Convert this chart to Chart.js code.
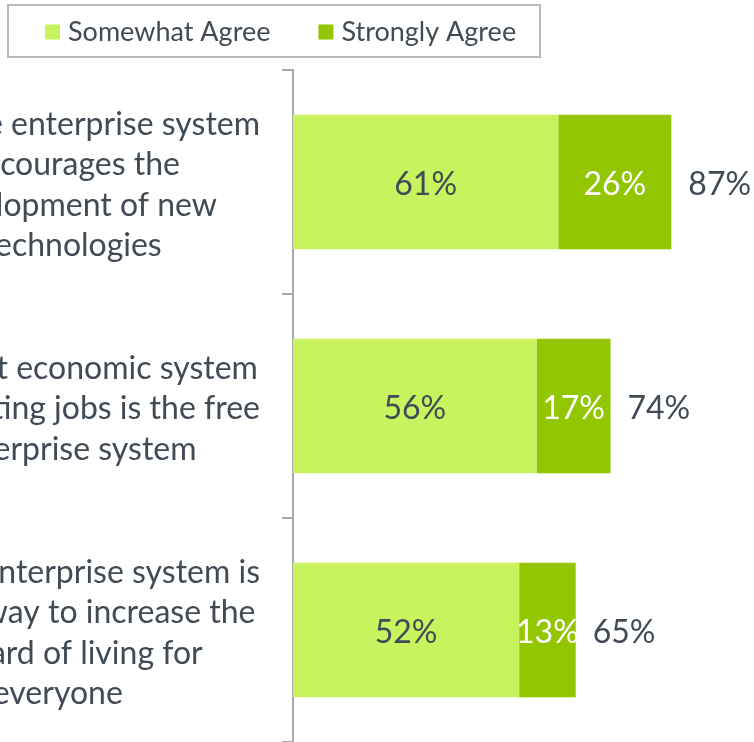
<!DOCTYPE html>
<html>
<head>
<meta charset="utf-8">
<script src="https://cdn.jsdelivr.net/npm/chart.js@4.4.1/dist/chart.umd.min.js"></script>
<style>
  html, body { margin: 0; padding: 0; background: #fff; overflow: hidden; }
  #wrap { position: absolute; left: -200px; top: 0; width: 954px; height: 742px; }
</style>
</head>
<body>
<div id="wrap"><canvas id="agreeChart" width="954" height="742"></canvas></div>
<script>
// statements shown on the category axis, one line per entry
const statements = [
    ['The free enterprise system', 'encourages the', 'development of new', 'technologies'],
    ['The best economic system', 'for creating jobs is the free', 'enterprise system'],
    ['The free enterprise system is', 'the best way to increase the', 'standard of living for', 'everyone']
];
const seriesNames = ['Somewhat Agree', 'Strongly Agree'];
const somewhatAgree = [61, 56, 52];
const stronglyAgree = [26, 17, 13];
const totalAgree = [87, 74, 65];

const textColor = '#414b56';
const fontFamily = 'Lato, "Open Sans", sans-serif';

// each statement is a block pushed against the axis, its lines centred inside it
const statementLabels = {
    id: 'statementLabels',
    afterDraw(chart, args, opts) {
        const ctx = chart.ctx;
        const yScale = chart.scales.y;
        ctx.save();
        ctx.font = opts.size + 'px ' + fontFamily;
        ctx.fillStyle = textColor;
        ctx.textAlign = 'center';
        ctx.textBaseline = 'middle';
        chart.data.labels.forEach((lines, i) => {
            const widest = Math.max(...lines.map(l => ctx.measureText(l).width));
            const cx = yScale.right - opts.gap - widest / 2;
            const cy = yScale.getPixelForTick(i) + opts.shift;
            lines.forEach((line, j) => {
                ctx.fillText(line, cx, cy + (j - (lines.length - 1) / 2) * opts.lineHeight);
            });
        });
        ctx.restore();
    }
};

// percent labels inside each segment plus the total after each stack
const valueLabels = {
    id: 'valueLabels',
    afterDatasetsDraw(chart) {
        const ctx = chart.ctx;
        ctx.save();
        ctx.font = '32px ' + fontFamily;
        ctx.textBaseline = 'middle';
        ctx.textAlign = 'center';
        chart.data.datasets.forEach((ds, di) => {
            ctx.fillStyle = di === 0 ? textColor : '#ffffff';
            chart.getDatasetMeta(di).data.forEach((bar, i) => {
                ctx.fillText(ds.data[i] + '%', (bar.x + bar.base) / 2, bar.y + 3);
            });
        });
        const lastBars = chart.getDatasetMeta(chart.data.datasets.length - 1).data;
        ctx.fillStyle = textColor;
        ctx.textAlign = 'left';
        lastBars.forEach((bar, i) => {
            ctx.fillText(totalAgree[i] + '%', bar.x + 17, bar.y + 3);
        });
        ctx.restore();
    }
};

// legend with a grey frame round it
const boxedLegend = {
    id: 'boxedLegend',
    afterDraw(chart, args, opts) {
        const ctx = chart.ctx;
        const b = opts.box;
        ctx.save();
        ctx.strokeStyle = '#b9b9b9';
        ctx.lineWidth = 2;
        ctx.strokeRect(b.x, b.y, b.w, b.h);
        ctx.font = '27px ' + fontFamily;
        ctx.textBaseline = 'middle';
        ctx.textAlign = 'left';
        let x = b.x + opts.inset;
        const cy = b.y + b.h / 2;
        chart.data.datasets.forEach(ds => {
            ctx.fillStyle = ds.backgroundColor;
            ctx.fillRect(x, cy - opts.square / 2 + 1, opts.square, opts.square);
            x += opts.square + opts.gap;
            ctx.fillStyle = textColor;
            ctx.fillText(ds.label, x, cy + 1);
            x += ctx.measureText(ds.label).width + opts.spacing;
        });
        ctx.restore();
    }
};

const ctx = document.getElementById('agreeChart').getContext('2d');
const chart = new Chart(ctx, {
    type: 'bar',
    data: {
        labels: statements,
        datasets: [
            {
                label: seriesNames[0],
                data: somewhatAgree,
                backgroundColor: '#c6f35e'
            },
            {
                label: seriesNames[1],
                data: stronglyAgree,
                backgroundColor: '#92c600'
            }
        ]
    },
    options: {
        indexAxis: 'y',
        responsive: false,
        animation: false,
        layout: {
            padding: { top: 70, right: 0, bottom: 0, left: 0 }
        },
        datasets: {
            bar: { barPercentage: 0.6, categoryPercentage: 1 }
        },
        scales: {
            x: {
                stacked: true,
                display: false,
                min: 0,
                max: 106
            },
            y: {
                stacked: true,
                grid: {
                    drawOnChartArea: false,
                    tickLength: 11,
                    color: '#a7aaad',
                    lineWidth: 2
                },
                border: { color: '#a7aaad', width: 2 },
                ticks: { display: false },
                afterFit(scale) {
                    scale.width = 493;
                    scale.paddingTop = 0;
                    scale.paddingBottom = 0;
                }
            }
        },
        plugins: {
            legend: { display: false },
            tooltip: { enabled: false },
            statementLabels: { size: 32, lineHeight: 40.5, gap: 33, shift: 3 },
            boxedLegend: {
                box: { x: 208, y: 5, w: 532, h: 52 },
                inset: 37,
                square: 15,
                gap: 8,
                spacing: 48
            }
        }
    },
    plugins: [statementLabels, valueLabels, boxedLegend]
});
</script>
</body>
</html>
